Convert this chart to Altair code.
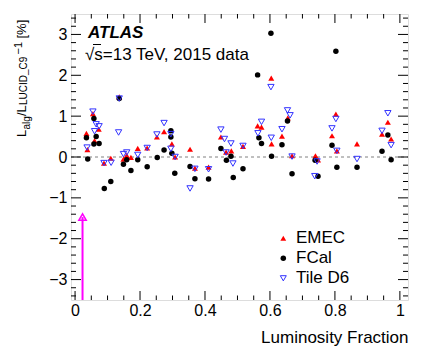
import altair as alt
import pandas as pd

FONT = "Liberation Sans"

emec_x = [0.035, 0.038, 0.055, 0.060, 0.073, 0.089, 0.110, 0.136, 0.149, 0.159, 0.172, 0.193,
          0.222, 0.252, 0.274, 0.298, 0.308, 0.354, 0.369, 0.411, 0.449, 0.465, 0.481, 0.517,
          0.562, 0.574, 0.604, 0.605, 0.637, 0.655, 0.668, 0.740, 0.748, 0.791, 0.803, 0.806,
          0.868, 0.945, 0.963, 0.973]
emec_y = [0.58, 0.18, 1.06, 0.40, 0.68, -0.15, -0.03, 1.47, -0.05, 0.04, -0.01, 0.21,
          0.22, 0.49, 0.62, 0.32, 0.00, 0.19, -0.27, -0.25, 0.49, 0.12, 0.15, 0.26,
          0.76, 0.73, 1.93, 0.32, 0.51, 0.96, 0.03, 0.03, -0.07, 0.52, 1.05, 0.15,
          0.32, 0.56, 0.85, 0.44]

fcal_x = [0.035, 0.039, 0.058, 0.058, 0.065, 0.074, 0.090, 0.110, 0.136, 0.149, 0.159, 0.172,
          0.193, 0.222, 0.253, 0.274, 0.295, 0.295, 0.298, 0.307, 0.354, 0.369, 0.411, 0.449,
          0.466, 0.480, 0.487, 0.517, 0.562, 0.566, 0.574, 0.603, 0.605, 0.637, 0.654, 0.668,
          0.739, 0.748, 0.791, 0.803, 0.806, 0.868, 0.945, 0.963, 0.973]
fcal_y = [0.47, -0.05, 0.94, 0.32, 0.50, 0.33, -0.77, -0.60, 1.43, -0.18, -0.07, -0.33,
          -0.07, -0.24, -0.01, 0.17, 0.64, 0.49, 0.09, -0.40, -0.23, -0.53, -0.54, 0.21,
          -0.08, 0.02, -0.50, -0.29, 2.01, 0.47, 0.33, 3.03, 0.02, 0.30, 0.88, -0.41,
          -0.08, -0.47, 0.29, 2.59, -0.25, -0.25, 0.14, 0.54, -0.07]

tile_x = [0.037, 0.055, 0.060, 0.065, 0.074, 0.089, 0.111, 0.134, 0.136, 0.149, 0.159, 0.193,
          0.222, 0.252, 0.274, 0.295, 0.295, 0.308, 0.354, 0.369, 0.411, 0.449, 0.460, 0.465,
          0.480, 0.486, 0.517, 0.563, 0.574, 0.603, 0.604, 0.637, 0.654, 0.662, 0.668, 0.745,
          0.738, 0.791, 0.803, 0.806, 0.868, 0.945, 0.963, 0.973]
tile_y = [0.23, 1.11, 0.63, 0.80, 0.75, -0.15, -0.14, 0.60, 1.43, 0.07, 0.11, 0.05,
          0.22, 0.55, 0.83, 0.56, 0.20, 0.00, -0.77, -0.29, -0.30, 0.67, 0.44, 0.11,
          0.33, -0.16, 0.27, 0.58, 0.86, 1.71, 0.47, 0.68, 1.14, 1.02, 0.01, -0.11,
          -0.47, 0.70, 0.93, 0.15, -0.05, 0.64, 1.07, 0.29]

arrow_x = [0.023]
arrow_y0 = [-3.5]
arrow_y1 = [-1.47]

legend_labels = ["EMEC", "FCal", "Tile D6"]

x_major = [0, 0.2, 0.4, 0.6, 0.8, 1.0]
x_minor = [0.05, 0.1, 0.15, 0.25, 0.3, 0.35, 0.45, 0.5, 0.55, 0.65, 0.7, 0.75, 0.85, 0.9, 0.95]
y_major = [-3, -2, -1, 0, 1, 2, 3]
y_minor = [v / 10 for v in range(-34, 35, 2) if v % 10 != 0]

W, H = 337, 286
xs = alt.Scale(domain=[-0.0125, 1.025], nice=False, zero=False)
ys = alt.Scale(domain=[-3.5, 3.5], nice=False, zero=False)

xaxis = alt.Axis(values=x_major, format="~g", labelFontSize=16, labelFont=FONT, labelColor="black",
                 ticks=False, tickSize=0, domain=False, grid=False, labelPadding=2,
                 title="Luminosity Fraction", titleFont=FONT, titleFontSize=17,
                 titleFontWeight="normal", titleAnchor="end", titlePadding=11, titleColor="black")
yaxis = alt.Axis(values=y_major, format="~g", labelFontSize=16, labelFont=FONT, labelColor="black",
                 ticks=False, tickSize=0, domain=False, grid=False, labelPadding=4, title="")

df_e = pd.DataFrame({"x": emec_x, "y": emec_y})
df_f = pd.DataFrame({"x": fcal_x, "y": fcal_y})
df_t = pd.DataFrame({"x": tile_x, "y": tile_y})

base_axes = alt.Chart(pd.DataFrame({"x": [0.0], "y": [0.0]})).mark_point(opacity=0).encode(
    x=alt.X("x:Q", scale=xs, axis=xaxis),
    y=alt.Y("y:Q", scale=ys, axis=yaxis),
)

zero_line = alt.Chart(pd.DataFrame({"y": [0.0]})).mark_rule(
    color="#808080", strokeDash=[3, 3], strokeWidth=1).encode(
    y=alt.Y("y:Q", scale=ys), x=alt.value(0), x2=alt.value(W))

# inward ticks on all four sides
TK = "#000000"
xt_maj = pd.DataFrame({"x": x_major})
xt_min = pd.DataFrame({"x": x_minor})
yt_maj = pd.DataFrame({"y": y_major})
yt_min = pd.DataFrame({"y": y_minor})

def xt(d, L, top):
    return alt.Chart(d).mark_tick(orient="vertical", size=L, thickness=1, color=TK, opacity=1).encode(
        x=alt.X("x:Q", scale=xs), y=alt.value(L / 2 if top else H - L / 2))

def yt(d, L, right):
    return alt.Chart(d).mark_tick(orient="horizontal", size=L, thickness=1, color=TK, opacity=1).encode(
        y=alt.Y("y:Q", scale=ys), x=alt.value(W - L / 2 if right else L / 2))

tick_layers = [xt(xt_maj, 9, False), xt(xt_maj, 9, True), xt(xt_min, 4.5, False), xt(xt_min, 4.5, True),
               yt(yt_maj, 10, False), yt(yt_maj, 10, True), yt(yt_min, 5, False), yt(yt_min, 5, True)]

emec = alt.Chart(df_e).mark_point(shape="triangle-up", filled=True, color="#ff0000", size=36, opacity=1).encode(
    x=alt.X("x:Q", scale=xs), y=alt.Y("y:Q", scale=ys))
fcal = alt.Chart(df_f).mark_point(shape="circle", filled=True, color="black", size=30, opacity=1).encode(
    x=alt.X("x:Q", scale=xs), y=alt.Y("y:Q", scale=ys))
tile = alt.Chart(df_t).mark_point(shape="triangle-down", filled=False, color="#3333ff", size=40,
                                  strokeWidth=1, opacity=1).encode(
    x=alt.X("x:Q", scale=xs), y=alt.Y("y:Q", scale=ys))

df_a = pd.DataFrame({"x": arrow_x, "y0": arrow_y0, "y1": arrow_y1})
arrow_line = alt.Chart(df_a).mark_rule(color="#ff00ff", strokeWidth=2).encode(
    x=alt.X("x:Q", scale=xs), y=alt.Y("y0:Q", scale=ys), y2="y1:Q")
arrow_head = alt.Chart(df_a).mark_point(shape="triangle-up", filled=False, color="#ff00ff", size=55,
                                        strokeWidth=1.5, opacity=1).encode(
    x=alt.X("x:Q", scale=xs), y=alt.Y("y1:Q", scale=ys))

def txt(s, x, y, size, **kw):
    return alt.Chart(pd.DataFrame({"t": [s]})).mark_text(
        font=FONT, fontSize=size, align="left", baseline="alphabetic", color="black", **kw).encode(
        text="t:N", x=alt.value(x), y=alt.value(y))

atlas = txt("ATLAS", 17, 23.7, 17, fontWeight="bold", fontStyle="italic")
energy = txt("\u221as=13 TeV, 2015 data", 14, 45.5, 17)
sqrt_bar = alt.Chart(pd.DataFrame({"a": [0]})).mark_tick(orient="horizontal", size=8, thickness=1, color="black", opacity=1).encode(
    x=alt.value(26), y=alt.value(30.5))

def vtxt(s, x, y, size):
    return alt.Chart(pd.DataFrame({"t": [s]})).mark_text(
        font=FONT, fontSize=size, align="left", baseline="alphabetic", angle=270, color="black").encode(
        text="t:N", x=alt.value(x), y=alt.value(y))

yb = -45.3
ytitle = (vtxt("L", yb, 123, 13) + vtxt("alg", yb + 4, 115.6, 10) + vtxt("/L", yb, 102, 13)
          + vtxt("LUCID_C9", yb + 1.5, 91, 10) + vtxt("\u22121", yb - 4, 40.5, 11)
          + vtxt("[%]", yb, 24.5, 13))

leg_y = [224.3, 244.3, 264.3]
leg_df = pd.DataFrame({"t": legend_labels, "yy": leg_y})
leg_e = alt.Chart(leg_df.iloc[[0]]).mark_point(shape="triangle-up", filled=True, color="#ff0000", size=34, opacity=1).encode(
    x=alt.value(212.3), y=alt.Y("yy:Q", scale=None))
leg_f = alt.Chart(leg_df.iloc[[1]]).mark_point(shape="circle", filled=True, color="black", size=30, opacity=1).encode(
    x=alt.value(212.3), y=alt.Y("yy:Q", scale=None))
leg_t = alt.Chart(leg_df.iloc[[2]]).mark_point(shape="triangle-down", filled=False, color="#3333ff", size=36, strokeWidth=1, opacity=1).encode(
    x=alt.value(212.3), y=alt.Y("yy:Q", scale=None))
leg_txt = alt.Chart(leg_df).mark_text(font=FONT, fontSize=17, align="left", baseline="middle", color="black").encode(
    text="t:N", x=alt.value(225), y=alt.Y("yy:Q", scale=None))

chart = alt.layer(
    base_axes, zero_line, *tick_layers, arrow_line, arrow_head, emec, fcal, tile,
    atlas, energy, sqrt_bar, ytitle, leg_e, leg_f, leg_t, leg_txt
).properties(
    width=W, height=H,
    autosize=alt.AutoSizeParams(type="none"),
    padding={"left": 63, "top": 6, "right": 9, "bottom": 54},
).configure_view(stroke="black", strokeWidth=1).configure(background="white")

chart.save("out.html", embed_options={"renderer": "svg", "actions": False})
